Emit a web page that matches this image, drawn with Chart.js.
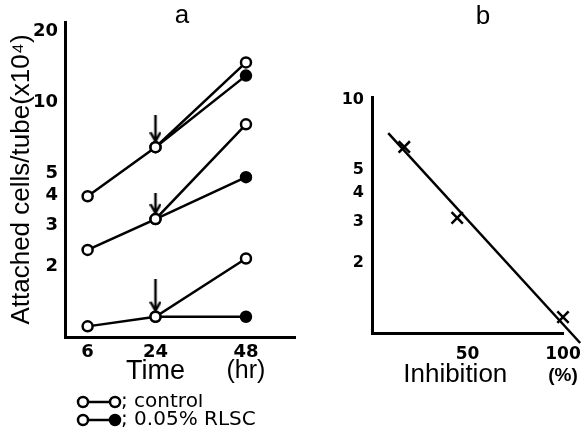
<!DOCTYPE html>
<html>
<head>
<meta charset="utf-8">
<script src="https://cdn.jsdelivr.net/npm/chart.js@4.4.1/dist/chart.umd.min.js"></script>
<style>
  html, body { margin: 0; padding: 0; background: #fff; overflow: hidden; }
  #wrap { position: relative; width: 584px; height: 433px; overflow: hidden; background: #fff; }
  #chartA { position: absolute; left: 0; top: 0; }
  #chartB { position: absolute; left: 330px; top: 0; }
</style>
</head>
<body>
<div id="wrap">
  <canvas id="chartA" width="364" height="433"></canvas>
  <canvas id="chartB" width="306" height="433"></canvas>
</div>
<script>
// panel a - attached cells per tube (x10^4)
const hours = [6, 24, 48];
const controlHigh = [3.98, 6.44, 14.8];
const controlMid = [2.35, 3.18, 8.06];
const controlLow = [1.11, 1.22, 2.16];
const rlscHigh = [null, 6.44, 13.0];
const rlscMid = [null, 3.18, 4.8];
const rlscLow = [null, 1.22, 1.22];
const arrowHours = [24, 24, 24];
const arrowValues = [6.44, 3.18, 1.22];
const arrowLengths = [26, 20, 32];
const yTicksA = [2, 3, 4, 5, 10, 20];
const legendLabels = ['; control', '; 0.05% RLSC'];

// panel b - cells vs inhibition
const inhibition = [16.9, 44.6, 100];
const cellsB = [6.29, 3.12, 1.17];
const fitX = [8.5, 109];
const fitY = [7.21, 0.906];
const xTicksB = [50, 100];
const yTicksB = [2, 3, 4, 5, 10];

const toPoints = (xs, ys) => xs.map((x, i) => ({ x: x, y: ys[i] })).filter(p => p.y !== null);

function makeArrow(len) {
    const gap = 6;
    const c = document.createElement('canvas');
    c.width = 12;
    c.height = 2 * (len + gap);
    const ctx = c.getContext('2d');
    ctx.strokeStyle = '#000';
    ctx.lineWidth = 2.5;
    ctx.beginPath();
    ctx.moveTo(6, 0);
    ctx.lineTo(6, len);
    ctx.stroke();
    ctx.beginPath();
    ctx.moveTo(1, len - 9);
    ctx.lineTo(6, len);
    ctx.lineTo(11, len - 9);
    ctx.stroke();
    return c;
}

function makeLegendSymbol(filled) {
    const c = document.createElement('canvas');
    c.width = 70;
    c.height = 16;
    const ctx = c.getContext('2d');
    ctx.strokeStyle = '#000';
    ctx.lineWidth = 2.5;
    ctx.beginPath();
    ctx.moveTo(36, 8);
    ctx.lineTo(58, 8);
    ctx.stroke();
    ctx.beginPath();
    ctx.arc(31, 8, 5, 0, Math.PI * 2);
    ctx.fillStyle = '#fff';
    ctx.fill();
    ctx.stroke();
    ctx.beginPath();
    ctx.arc(63, 8, 5, 0, Math.PI * 2);
    ctx.fillStyle = filled ? '#000' : '#fff';
    ctx.fill();
    ctx.stroke();
    return c;
}

// draws the axis names under the tick labels, at a value of the x scale
function noteLabels(items) {
    return {
        id: 'noteLabels',
        afterDraw(chart) {
            const ctx = chart.ctx;
            const xScale = chart.scales.x;
            ctx.save();
            ctx.fillStyle = '#000';
            ctx.textAlign = 'center';
            ctx.textBaseline = 'middle';
            items.forEach(item => {
                ctx.font = item.font;
                ctx.fillText(item.text, xScale.getPixelForValue(item.at), item.y);
            });
            ctx.restore();
        }
    };
}

function series(values, fills) {
    return {
        data: toPoints(hours, values),
        borderColor: '#000',
        borderWidth: 2.5,
        pointRadius: 5,
        pointBorderWidth: 2.5,
        pointBorderColor: '#000',
        pointBackgroundColor: fills,
        tension: 0,
        fill: false
    };
}

// empty axis on the right, only to keep room there (titles stay centred on the whole canvas)
function spacer(width) {
    return {
        position: 'right',
        display: true,
        grid: { display: false, drawTicks: false },
        border: { display: false },
        ticks: { display: false },
        afterFit: s => { s.width = width; }
    };
}

const tickFont = (size) => ({ family: 'DejaVu Sans', weight: 'bold', size: size });
const axisBorder = { display: true, color: '#000', width: 3 };
const noGrid = { display: false, drawTicks: false };

Chart.defaults.color = '#000';

new Chart(document.getElementById('chartA'), {
    type: 'line',
    data: {
        datasets: [
            series(controlHigh, '#fff'),
            series(rlscHigh, ['#fff', '#000']),
            series(controlMid, '#fff'),
            series(rlscMid, ['#fff', '#000']),
            series(controlLow, '#fff'),
            series(rlscLow, ['#fff', '#000']),
            {
                data: toPoints(arrowHours, arrowValues),
                showLine: false,
                pointStyle: arrowLengths.map(makeArrow),
                pointRadius: 10
            }
        ]
    },
    options: {
        responsive: false,
        animation: false,
        devicePixelRatio: 1,
        layout: { padding: 0 },
        scales: {
            x: {
                type: 'linear',
                min: 0,
                max: 61,
                afterBuildTicks: s => { s.ticks = hours.map(v => ({ value: v })); },
                afterFit: s => { s.height = 57; },
                grid: noGrid,
                border: axisBorder,
                ticks: { color: '#000', font: tickFont(18), padding: 5, maxRotation: 0, autoSkip: false, callback: v => String(v) }
            },
            y: {
                type: 'logarithmic',
                min: 1,
                max: 22,
                afterBuildTicks: s => { s.ticks = yTicksA.map(v => ({ value: v })); },
                afterFit: s => { s.width = 65; },
                grid: noGrid,
                border: axisBorder,
                ticks: { color: '#000', font: tickFont(18), padding: 7, autoSkip: false, callback: v => String(v) },
                title: {
                    display: true,
                    text: 'Attached cells/tube(x10⁴)',
                    color: '#000',
                    font: { family: 'Liberation Sans', size: 26 },
                    padding: { top: 6, bottom: 0 }
                }
            },
            pad: spacer(69)
        },
        plugins: {
            title: {
                display: true,
                text: 'a',
                color: '#000',
                font: { family: 'Liberation Sans', size: 26, weight: 'normal', lineHeight: 1.2 },
                padding: { top: 0, bottom: -9.2 }
            },
            legend: {
                display: true,
                position: 'bottom',
                align: 'start',
                fullSize: false,
                maxHeight: 39,
                labels: {
                    usePointStyle: true,
                    pointStyleWidth: 48,
                    padding: -2,
                    color: '#000',
                    font: { family: 'DejaVu Sans', size: 20 },
                    generateLabels: () => legendLabels.map((text, i) => ({
                        text: text,
                        pointStyle: makeLegendSymbol(i === 1),
                        fillStyle: '#000',
                        strokeStyle: '#000',
                        lineWidth: 0,
                        hidden: false,
                        datasetIndex: i
                    }))
                }
            },
            tooltip: { enabled: false }
        }
    },
    plugins: [noteLabels([
        { text: 'Time', at: 24, y: 372, font: '27px "Liberation Sans"' },
        { text: '(hr)', at: 48, y: 371, font: '25px "Liberation Sans"' }
    ])]
});

new Chart(document.getElementById('chartB'), {
    type: 'line',
    data: {
        datasets: [
            {
                data: toPoints(inhibition, cellsB),
                showLine: false,
                pointStyle: 'crossRot',
                pointRadius: 8,
                pointBorderWidth: 2.5,
                pointBorderColor: '#000',
                clip: false
            },
            {
                data: toPoints(fitX, fitY),
                borderColor: '#000',
                borderWidth: 2.5,
                pointRadius: 0,
                tension: 0,
                fill: false,
                clip: false
            }
        ]
    },
    options: {
        responsive: false,
        animation: false,
        devicePixelRatio: 1,
        layout: { padding: 0 },
        scales: {
            x: {
                type: 'linear',
                min: 0,
                max: 100,
                afterBuildTicks: s => { s.ticks = xTicksB.map(v => ({ value: v })); },
                afterFit: s => { s.height = 100; },
                grid: noGrid,
                border: axisBorder,
                ticks: { color: '#000', font: tickFont(17), padding: 11, maxRotation: 0, autoSkip: false, callback: v => String(v) }
            },
            y: {
                type: 'logarithmic',
                min: 1,
                max: 10.3,
                afterBuildTicks: s => { s.ticks = yTicksB.map(v => ({ value: v })); },
                afterFit: s => { s.width = 42; },
                grid: noGrid,
                border: axisBorder,
                ticks: { color: '#000', font: tickFont(16), padding: 8, autoSkip: false, callback: v => String(v) }
            },
            pad: spacer(73)
        },
        plugins: {
            title: {
                display: true,
                text: 'b',
                color: '#000',
                font: { family: 'Liberation Sans', size: 26, weight: 'normal', lineHeight: 1.2 },
                padding: { top: 1, bottom: 64.8 }
            },
            legend: { display: false },
            tooltip: { enabled: false }
        }
    },
    plugins: [noteLabels([
        { text: 'Inhibition', at: 43.6, y: 375, font: '26px "Liberation Sans"' },
        { text: '(%)', at: 100, y: 376, font: 'bold 19px "Liberation Sans"' }
    ])]
});
</script>
</body>
</html>
